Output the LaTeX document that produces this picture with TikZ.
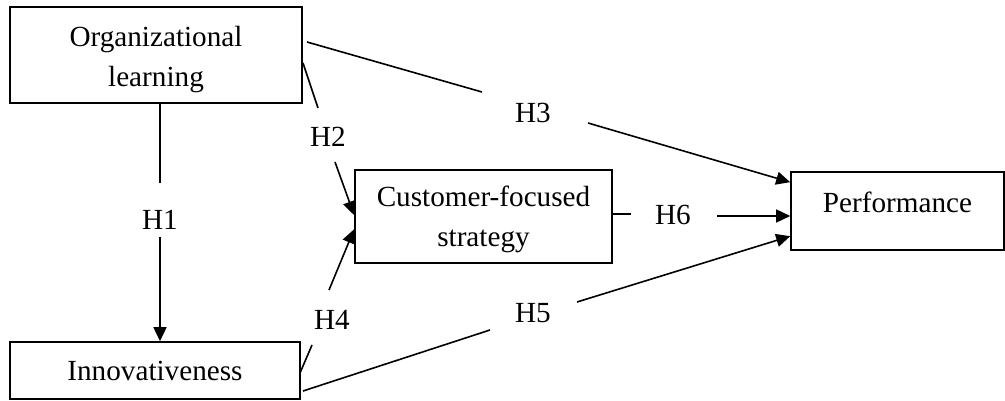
\documentclass[tikz,border=0pt]{standalone}
\usepackage{fontspec}
\setmainfont{Liberation Serif}
\usetikzlibrary{arrows.meta,calc}
\begin{document}
\begin{tikzpicture}[x=1pt,y=-1pt,
  box/.style={draw,line width=1.6pt,inner sep=0pt,align=center,font=\fontsize{29.2}{40}\selectfont},
  lab/.style={inner sep=0pt,font=\fontsize{29.2}{40}\selectfont},
  conn/.style={line width=1.6pt},
  arr/.style={conn,-{Triangle[length=14pt,width=13pt]}}]
\useasboundingbox[fill=white] (0,0) rectangle (1005,401);
% boxes
\node[box,minimum width=292pt,minimum height=96pt,text height=69pt,text depth=6pt] (org) at (156,55) {Organizational\\learning};
\node[box,minimum width=290pt,minimum height=57pt] (innov) at (155,370.5) {Innovativeness};
\node[box,minimum width=257pt,minimum height=93pt,text height=66pt,text depth=6pt] (cust) at (483.5,216.5) {Customer-focused\\strategy};
\node[box,minimum width=213pt,minimum height=78pt,text depth=18pt] (perf) at (897.5,211) {Performance};
% labels
\node[lab] (h1) at (160,220) {H1};
\node[lab] (h2) at (328,137) {H2};
\node[lab] (h3) at (533,113) {H3};
\node[lab] (h4) at (332,320) {H4};
\node[lab] (h5) at (533,313) {H5};
\node[lab] (h6) at (673,215) {H6};
% connector points
\coordinate (h1a) at (160,183);
\coordinate (h1b) at (160,237);
\coordinate (h2s) at (303,63);
\coordinate (h2a) at (318,108);
\coordinate (h2b) at (335,162);
\coordinate (h2e) at ($(cust.north west)+(0,46)$);
\coordinate (h3s) at (307,42);
\coordinate (h3a) at (482,92);
\coordinate (h3b) at (588,123);
\coordinate (h3e) at ($(perf.north west)+(0,11)$);
\coordinate (h4s) at (300,373);
\coordinate (h4a) at (312,345);
\coordinate (h4b) at (329,290);
\coordinate (h4e) at ($(cust.north west)+(0,60)$);
\coordinate (h5s) at (303,391);
\coordinate (h5a) at (490,330);
\coordinate (h5b) at (577,302);
\coordinate (h5e) at ($(perf.north west)+(0,65)$);
\coordinate (h6a) at (631,214);
\coordinate (h6b) at (717,216);
% connectors
\draw[conn] (h1a |- org.south) -- (h1a);
\draw[arr] (h1b) -- (h1b |- innov.north);
\draw[conn] (h2s) -- (h2a);
\draw[arr] (h2b) -- (h2e);
\draw[conn] (h3s) -- (h3a);
\draw[arr] (h3b) -- (h3e);
\draw[conn] (h4s) -- (h4a);
\draw[arr] (h4b) -- (h4e);
\draw[conn] (h5s) -- (h5a);
\draw[arr] (h5b) -- (h5e);
\draw[conn] (cust.east |- h6a) -- (h6a);
\draw[arr] (h6b) -- (h6b -| perf.west);
\end{tikzpicture}
\end{document}
